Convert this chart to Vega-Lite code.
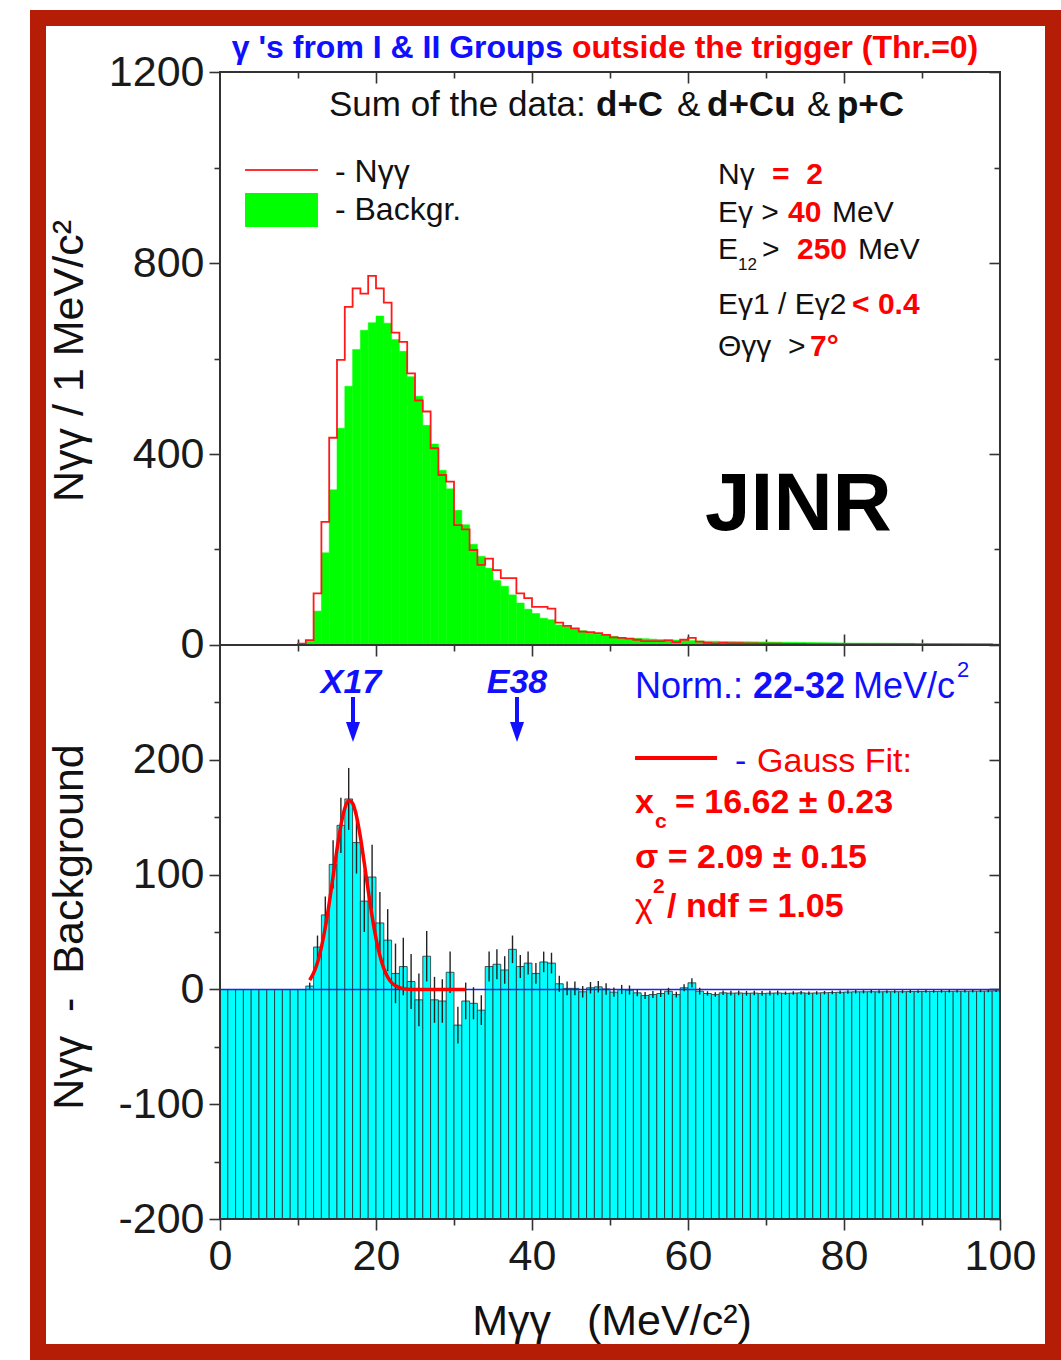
{
"$schema": "https://vega.github.io/schema/vega-lite/v6.json",
"width": 1015, "height": 1334,
"autosize": {"type": "none"},
"padding": {"left": 38, "top": 18, "right": 8, "bottom": 8},
"background": "white",
"config": {
  "view": {"stroke": "#b51d06", "strokeWidth": 16, "fill": "white"},
  "text": {"font": "Liberation Sans"},
  "axis": {"domain": false, "grid": false, "tickColor": "#333333", "tickWidth": 1.6, "labelFont": "Liberation Sans", "labelFontSize": 43, "labelColor": "#1a1a1a", "labelFlush": false, "labelOverlap": false, "labelBound": false}
},
"datasets": {
  "hist": [
    {"lo":0,"hi":1,"m":0.5,"n":0,"b":0,"d":0,"e":0},
    {"lo":1,"hi":2,"m":1.5,"n":0,"b":0,"d":0,"e":0},
    {"lo":2,"hi":3,"m":2.5,"n":0,"b":0,"d":0,"e":0},
    {"lo":3,"hi":4,"m":3.5,"n":0,"b":0,"d":0,"e":0},
    {"lo":4,"hi":5,"m":4.5,"n":0,"b":0,"d":0,"e":0},
    {"lo":5,"hi":6,"m":5.5,"n":0,"b":0,"d":0,"e":0},
    {"lo":6,"hi":7,"m":6.5,"n":0,"b":0,"d":0,"e":0},
    {"lo":7,"hi":8,"m":7.5,"n":0,"b":0,"d":0,"e":0},
    {"lo":8,"hi":9,"m":8.5,"n":0,"b":0,"d":0,"e":0},
    {"lo":9,"hi":10,"m":9.5,"n":0,"b":0,"d":0,"e":0},
    {"lo":10,"hi":11,"m":10.5,"n":3,"b":3,"d":0,"e":0},
    {"lo":11,"hi":12,"m":11.5,"n":10,"b":7,"d":3,"e":3},
    {"lo":12,"hi":13,"m":12.5,"n":108,"b":71,"d":37,"e":10},
    {"lo":13,"hi":14,"m":13.5,"n":258,"b":193,"d":65,"e":16},
    {"lo":14,"hi":15,"m":14.5,"n":434,"b":325,"d":109,"e":21},
    {"lo":15,"hi":16,"m":15.5,"n":597,"b":454,"d":143,"e":24},
    {"lo":16,"hi":17,"m":16.5,"n":708,"b":542,"d":166,"e":27},
    {"lo":17,"hi":18,"m":17.5,"n":747,"b":619,"d":128,"e":27},
    {"lo":18,"hi":19,"m":18.5,"n":736,"b":659,"d":77,"e":27},
    {"lo":19,"hi":20,"m":19.5,"n":773,"b":675,"d":98,"e":28},
    {"lo":20,"hi":21,"m":20.5,"n":747,"b":689,"d":58,"e":27},
    {"lo":21,"hi":22,"m":21.5,"n":717,"b":674,"d":43,"e":27},
    {"lo":22,"hi":23,"m":22.5,"n":654,"b":640,"d":14,"e":26},
    {"lo":23,"hi":24,"m":23.5,"n":635,"b":615,"d":20,"e":25},
    {"lo":24,"hi":25,"m":24.5,"n":569,"b":562,"d":7,"e":24},
    {"lo":25,"hi":26,"m":25.5,"n":512,"b":521,"d":-9,"e":23},
    {"lo":26,"hi":27,"m":26.5,"n":489,"b":460,"d":29,"e":22},
    {"lo":27,"hi":28,"m":27.5,"n":412,"b":421,"d":-9,"e":20},
    {"lo":28,"hi":29,"m":28.5,"n":356,"b":366,"d":-10,"e":19},
    {"lo":29,"hi":30,"m":29.5,"n":342,"b":327,"d":15,"e":18},
    {"lo":30,"hi":31,"m":30.5,"n":251,"b":282,"d":-31,"e":16},
    {"lo":31,"hi":32,"m":31.5,"n":242,"b":252,"d":-10,"e":16},
    {"lo":32,"hi":33,"m":32.5,"n":199,"b":211,"d":-12,"e":14},
    {"lo":33,"hi":34,"m":33.5,"n":168,"b":186,"d":-18,"e":13},
    {"lo":34,"hi":35,"m":34.5,"n":181,"b":161,"d":20,"e":13},
    {"lo":35,"hi":36,"m":35.5,"n":157,"b":135,"d":22,"e":13},
    {"lo":36,"hi":37,"m":36.5,"n":140,"b":123,"d":17,"e":12},
    {"lo":37,"hi":38,"m":37.5,"n":140,"b":105,"d":35,"e":12},
    {"lo":38,"hi":39,"m":38.5,"n":108,"b":88,"d":20,"e":10},
    {"lo":39,"hi":40,"m":39.5,"n":98,"b":75,"d":23,"e":10},
    {"lo":40,"hi":41,"m":40.5,"n":80,"b":66,"d":14,"e":9},
    {"lo":41,"hi":42,"m":41.5,"n":80,"b":56,"d":24,"e":9},
    {"lo":42,"hi":43,"m":42.5,"n":76,"b":53,"d":23,"e":9},
    {"lo":43,"hi":44,"m":43.5,"n":47,"b":42,"d":5,"e":7},
    {"lo":44,"hi":45,"m":44.5,"n":40,"b":39,"d":1,"e":6},
    {"lo":45,"hi":46,"m":45.5,"n":35,"b":34,"d":1,"e":6},
    {"lo":46,"hi":47,"m":46.5,"n":28,"b":30,"d":-2,"e":5},
    {"lo":47,"hi":48,"m":47.5,"n":27,"b":25.5,"d":1.5,"e":5},
    {"lo":48,"hi":49,"m":48.5,"n":25,"b":22.7,"d":2.3,"e":5},
    {"lo":49,"hi":50,"m":49.5,"n":21,"b":20.5,"d":0.5,"e":5},
    {"lo":50,"hi":51,"m":50.5,"n":16,"b":18.3,"d":-2.3,"e":4},
    {"lo":51,"hi":52,"m":51.5,"n":15,"b":15,"d":0,"e":4},
    {"lo":52,"hi":53,"m":52.5,"n":13.5,"b":14,"d":-0.5,"e":4},
    {"lo":53,"hi":54,"m":53.5,"n":11,"b":13.9,"d":-2.9,"e":3},
    {"lo":54,"hi":55,"m":54.5,"n":8,"b":13.2,"d":-5.2,"e":3},
    {"lo":55,"hi":56,"m":55.5,"n":8,"b":12.4,"d":-4.4,"e":3},
    {"lo":56,"hi":57,"m":56.5,"n":8,"b":11.5,"d":-3.5,"e":3},
    {"lo":57,"hi":58,"m":57.5,"n":9.5,"b":11,"d":-1.5,"e":3},
    {"lo":58,"hi":59,"m":58.5,"n":6,"b":10.4,"d":-4.4,"e":2.5},
    {"lo":59,"hi":60,"m":59.5,"n":11,"b":9.5,"d":1.5,"e":3},
    {"lo":60,"hi":61,"m":60.5,"n":15,"b":9.2,"d":5.8,"e":4},
    {"lo":61,"hi":62,"m":61.5,"n":7,"b":8.5,"d":-1.5,"e":3},
    {"lo":62,"hi":63,"m":62.5,"n":4.5,"b":8,"d":-3.5,"e":2},
    {"lo":63,"hi":64,"m":63.5,"n":3.5,"b":7.9,"d":-4.4,"e":2},
    {"lo":64,"hi":65,"m":64.5,"n":4.5,"b":7.4,"d":-2.9,"e":2},
    {"lo":65,"hi":66,"m":65.5,"n":4,"b":7.2,"d":-3.2,"e":2},
    {"lo":66,"hi":67,"m":66.5,"n":4,"b":7,"d":-3,"e":2},
    {"lo":67,"hi":68,"m":67.5,"n":3.5,"b":6.8,"d":-3.3,"e":2},
    {"lo":68,"hi":69,"m":68.5,"n":3.5,"b":6.6,"d":-3.1,"e":2},
    {"lo":69,"hi":70,"m":69.5,"n":3,"b":6.4,"d":-3.4,"e":2},
    {"lo":70,"hi":71,"m":70.5,"n":3,"b":6.2,"d":-3.2,"e":2},
    {"lo":71,"hi":72,"m":71.5,"n":3,"b":6,"d":-3,"e":2},
    {"lo":72,"hi":73,"m":72.5,"n":2.5,"b":5.8,"d":-3.3,"e":1.5},
    {"lo":73,"hi":74,"m":73.5,"n":2.5,"b":5.6,"d":-3.1,"e":1.5},
    {"lo":74,"hi":75,"m":74.5,"n":2.5,"b":5.4,"d":-2.9,"e":1.5},
    {"lo":75,"hi":76,"m":75.5,"n":2,"b":5.2,"d":-3.2,"e":1.5},
    {"lo":76,"hi":77,"m":76.5,"n":2,"b":5,"d":-3,"e":1.5},
    {"lo":77,"hi":78,"m":77.5,"n":2,"b":4.8,"d":-2.8,"e":1.5},
    {"lo":78,"hi":79,"m":78.5,"n":2,"b":4.6,"d":-2.6,"e":1.5},
    {"lo":79,"hi":80,"m":79.5,"n":2,"b":4.4,"d":-2.4,"e":1.5},
    {"lo":80,"hi":81,"m":80.5,"n":2,"b":4.2,"d":-2.2,"e":1.5},
    {"lo":81,"hi":82,"m":81.5,"n":2,"b":4,"d":-2,"e":1.5},
    {"lo":82,"hi":83,"m":82.5,"n":2,"b":4,"d":-2,"e":1.4},
    {"lo":83,"hi":84,"m":83.5,"n":2,"b":3.9,"d":-1.9,"e":1.4},
    {"lo":84,"hi":85,"m":84.5,"n":1.8,"b":3.8,"d":-2,"e":1.3},
    {"lo":85,"hi":86,"m":85.5,"n":1.8,"b":3.7,"d":-1.9,"e":1.3},
    {"lo":86,"hi":87,"m":86.5,"n":1.7,"b":3.6,"d":-1.9,"e":1.3},
    {"lo":87,"hi":88,"m":87.5,"n":1.6,"b":3.5,"d":-1.9,"e":1.3},
    {"lo":88,"hi":89,"m":88.5,"n":1.6,"b":3.4,"d":-1.8,"e":1.3},
    {"lo":89,"hi":90,"m":89.5,"n":1.5,"b":3.3,"d":-1.8,"e":1.2},
    {"lo":90,"hi":91,"m":90.5,"n":1.5,"b":3.2,"d":-1.7,"e":1.2},
    {"lo":91,"hi":92,"m":91.5,"n":1.4,"b":3.1,"d":-1.7,"e":1.2},
    {"lo":92,"hi":93,"m":92.5,"n":1.4,"b":3.0,"d":-1.6,"e":1.2},
    {"lo":93,"hi":94,"m":93.5,"n":1.3,"b":2.9,"d":-1.6,"e":1.1},
    {"lo":94,"hi":95,"m":94.5,"n":1.3,"b":2.8,"d":-1.5,"e":1.1},
    {"lo":95,"hi":96,"m":95.5,"n":1.2,"b":2.7,"d":-1.5,"e":1.1},
    {"lo":96,"hi":97,"m":96.5,"n":1.2,"b":2.6,"d":-1.4,"e":1.1},
    {"lo":97,"hi":98,"m":97.5,"n":1.1,"b":2.5,"d":-1.4,"e":1},
    {"lo":98,"hi":99,"m":98.5,"n":1.1,"b":2.4,"d":-1.3,"e":1},
    {"lo":99,"hi":100,"m":99.5,"n":1,"b":2.2,"d":-1.2,"e":1}
  ],
  "gauss": [
    {"gx":11.5,"g":8.2},{"gx":12,"g":14.3},{"gx":12.5,"g":23.6},{"gx":13,"g":36.8},{"gx":13.5,"g":54.2},
    {"gx":14,"g":75.2},{"gx":14.5,"g":98.6},{"gx":15,"g":122.2},{"gx":15.5,"g":142.9},{"gx":16,"g":157.9},
    {"gx":16.5,"g":164.7},{"gx":17,"g":162.3},{"gx":17.5,"g":151.0},{"gx":18,"g":132.7},{"gx":18.5,"g":110.1},
    {"gx":19,"g":86.3},{"gx":19.5,"g":63.9},{"gx":20,"g":44.6},{"gx":20.5,"g":29.5},{"gx":21,"g":18.4},
    {"gx":21.5,"g":10.8},{"gx":22,"g":6.0},{"gx":22.5,"g":3.2},{"gx":23,"g":1.6},{"gx":23.5,"g":0.7},
    {"gx":24,"g":0.3},{"gx":25,"g":0},{"gx":31.5,"g":0}
  ]
},
"layer": [
  {
    "data": {"name": "hist"},
    "mark": {"type": "bar", "fill": "#00ff00", "stroke": "#00ff00", "strokeWidth": 0.5},
    "encoding": {
      "x": {"field": "lo", "type": "quantitative", "scale": {"domain": [-23.3333, 106.7949], "nice": false, "zero": false},
            "axis": {"orient": "bottom", "offset": -1280, "values": [20,40,60,80], "tickSize": 11, "labels": false, "title": null}},
      "x2": {"field": "hi"},
      "y": {"field": "b", "type": "quantitative", "scale": {"domain": [-1480.63, 1313.09], "nice": false, "zero": false},
            "axis": {"orient": "left", "offset": -182, "values": [0,400,800,1200], "format": "d", "tickSize": 11, "labelPadding": 5, "title": null}},
      "y2": {"datum": 0}
    }
  },
  {
    "data": {"name": "hist"},
    "mark": {"type": "line", "interpolate": "step-after", "stroke": "#ff1a1a", "strokeWidth": 1.8},
    "encoding": {
      "x": {"field": "lo", "type": "quantitative", "scale": {"domain": [-23.3333, 106.7949], "nice": false, "zero": false},
            "axis": {"orient": "bottom", "offset": -1280, "values": [10,30,50,70,90], "tickSize": 6, "labels": false, "title": null}},
      "y": {"field": "n", "type": "quantitative", "scale": {"domain": [-1480.63, 1313.09], "nice": false, "zero": false},
            "axis": {"orient": "left", "offset": -182, "values": [200,600,1000], "tickSize": 6, "labels": false, "title": null}}
    }
  },
  {
    "data": {"values": [{}]},
    "mark": {"type": "rect", "fill": "white", "fillOpacity": 0, "stroke": "#333333", "strokeWidth": 2},
    "encoding": {
      "x": {"datum": 0, "type": "quantitative", "scale": {"domain": [-23.3333, 106.7949], "nice": false, "zero": false},
            "axis": {"orient": "top", "offset": -627, "values": [20,40,60,80], "tickSize": 11, "labels": false, "title": null}},
      "x2": {"datum": 100},
      "y": {"datum": 0, "type": "quantitative", "scale": {"domain": [-1480.63, 1313.09], "nice": false, "zero": false},
            "axis": {"orient": "left", "offset": -962, "values": [0,400,800,1200], "tickSize": 11, "labels": false, "title": null}},
      "y2": {"datum": 1200}
    }
  },
  {
    "data": {"values": [{}]},
    "mark": {"type": "rect", "fill": "#00ff00"},
    "encoding": {
      "x": {"datum": 3.21, "type": "quantitative", "scale": {"domain": [-23.3333, 106.7949], "nice": false, "zero": false},
            "axis": {"orient": "top", "offset": -627, "values": [10,30,50,70,90], "tickSize": 6, "labels": false, "title": null}},
      "x2": {"datum": 12.56},
      "y": {"datum": 946.6, "type": "quantitative", "scale": {"domain": [-1480.63, 1313.09], "nice": false, "zero": false},
            "axis": {"orient": "left", "offset": -962, "values": [200,600,1000], "tickSize": 6, "labels": false, "title": null}},
      "y2": {"datum": 875.4}
    }
  },
  {
    "data": {"name": "hist"},
    "mark": {"type": "bar", "fill": "#00ffff", "stroke": "#2b2b2b", "strokeWidth": 0.8},
    "encoding": {
      "x": {"field": "lo", "type": "quantitative", "scale": {"domain": [-23.3333, 106.7949], "nice": false, "zero": false},
            "axis": {"orient": "bottom", "offset": -133, "values": [0,20,40,60,80,100], "tickSize": 11, "labelPadding": 5, "title": null}},
      "x2": {"field": "hi"},
      "y": {"field": "d", "type": "quantitative", "scale": {"domain": [-315.77, 846.25], "nice": false, "zero": false},
            "axis": {"orient": "left", "offset": -182, "values": [-200,-100,0,100,200], "tickSize": 11, "labelPadding": 5, "title": null, "labelExpr": "replace(datum.label, '\u2212', '-')"}},
      "y2": {"datum": -200}
    }
  },
  {
    "data": {"values": [{}]},
    "mark": {"type": "rule", "stroke": "#2020ff", "strokeWidth": 1.3},
    "encoding": {
      "x": {"datum": 0, "type": "quantitative", "scale": {"domain": [-23.3333, 106.7949], "nice": false, "zero": false},
            "axis": {"orient": "bottom", "offset": -133, "values": [10,30,50,70,90], "tickSize": 6, "labels": false, "title": null}},
      "x2": {"datum": 100},
      "y": {"datum": 0, "type": "quantitative", "scale": {"domain": [-315.77, 846.25], "nice": false, "zero": false},
            "axis": {"orient": "left", "offset": -182, "values": [-150,-50,50,150,250], "tickSize": 6, "labels": false, "title": null}}
    }
  },
  {
    "data": {"name": "hist"},
    "mark": {"type": "errorbar", "color": "#222222", "thickness": 1.4},
    "encoding": {
      "x": {"field": "m", "type": "quantitative", "scale": {"domain": [-23.3333, 106.7949], "nice": false, "zero": false}, "axis": null},
      "y": {"field": "d", "type": "quantitative", "scale": {"domain": [-315.77, 846.25], "nice": false, "zero": false}, "axis": null},
      "yError": {"field": "e"}
    }
  },
  {
    "data": {"name": "gauss"},
    "mark": {"type": "line", "stroke": "#ff0000", "strokeWidth": 3.5, "interpolate": "monotone"},
    "encoding": {
      "x": {"field": "gx", "type": "quantitative", "scale": {"domain": [-23.3333, 106.7949], "nice": false, "zero": false},
            "axis": {"orient": "bottom", "offset": -707, "values": [20,40,60,80], "tickSize": 11, "labels": false, "title": null}},
      "y": {"field": "g", "type": "quantitative", "scale": {"domain": [-315.77, 846.25], "nice": false, "zero": false},
            "axis": {"orient": "left", "offset": -962, "values": [-200,-100,0,100,200], "tickSize": 11, "labels": false, "title": null}}
    }
  },
  {
    "data": {"values": [{}]},
    "mark": {"type": "rect", "fill": "white", "fillOpacity": 0, "stroke": "#333333", "strokeWidth": 2},
    "encoding": {
      "x": {"datum": 0, "type": "quantitative", "scale": {"domain": [-23.3333, 106.7949], "nice": false, "zero": false},
            "axis": {"orient": "bottom", "offset": -707, "values": [10,30,50,70,90], "tickSize": 6, "labels": false, "title": null}},
      "x2": {"datum": 100},
      "y": {"datum": -200, "type": "quantitative", "scale": {"domain": [-315.77, 846.25], "nice": false, "zero": false},
            "axis": {"orient": "left", "offset": -962, "values": [-150,-50,50,150,250], "tickSize": 6, "labels": false, "title": null}},
      "y2": {"datum": 300}
    }
  },
  {
    "data": {"values": [{}]},
    "mark": {"type": "rule", "stroke": "#ff3030", "strokeWidth": 2},
    "encoding": {
      "x": {"datum": 3.21, "type": "quantitative", "scale": {"domain": [-23.3333, 106.7949], "nice": false, "zero": false}, "axis": null},
      "x2": {"datum": 12.56},
      "y": {"datum": 994.8, "type": "quantitative", "scale": {"domain": [-1480.63, 1313.09], "nice": false, "zero": false}, "axis": null}
    }
  },
  {
    "data": {"values": [{"x": 43.97, "y": 1250.3, "t": "γ 's from I & II Groups"}]},
    "mark": {"type": "text", "font": "Liberation Sans", "fontSize": 32, "fontWeight": "bold", "fill": "#1010ff", "align": "right", "baseline": "middle"},
    "encoding": {
      "x": {"field": "x", "type": "quantitative", "scale": {"domain": [-23.3333, 106.7949], "nice": false, "zero": false}, "axis": null},
      "y": {"field": "y", "type": "quantitative", "scale": {"domain": [-1480.63, 1313.09], "nice": false, "zero": false}, "axis": null},
      "text": {"field": "t"}
    }
  },
  {
    "data": {"values": [{"x": 45.13, "y": 1250.3, "t": "outside the trigger (Thr.=0)"}]},
    "mark": {"type": "text", "font": "Liberation Sans", "fontSize": 32, "fontWeight": "bold", "fill": "#ff0000", "align": "left", "baseline": "middle"},
    "encoding": {
      "x": {"field": "x", "type": "quantitative", "scale": {"domain": [-23.3333, 106.7949], "nice": false, "zero": false}, "axis": null},
      "y": {"field": "y", "type": "quantitative", "scale": {"domain": [-1480.63, 1313.09], "nice": false, "zero": false}, "axis": null},
      "text": {"field": "t"}
    }
  },
  {
    "data": {"values": [{"x": 13.97, "y": 1130.9, "t": "Sum of the data:"}, {"x": 58.59, "y": 1130.9, "t": "&"}, {"x": 75.26, "y": 1130.9, "t": "&"}]},
    "mark": {"type": "text", "font": "Liberation Sans", "fontSize": 35, "fill": "#111111", "align": "left", "baseline": "middle"},
    "encoding": {
      "x": {"field": "x", "type": "quantitative", "scale": {"domain": [-23.3333, 106.7949], "nice": false, "zero": false}, "axis": null},
      "y": {"field": "y", "type": "quantitative", "scale": {"domain": [-1480.63, 1313.09], "nice": false, "zero": false}, "axis": null},
      "text": {"field": "t"}
    }
  },
  {
    "data": {"values": [{"x": 48.21, "y": 1130.9, "t": "d+C"}, {"x": 62.44, "y": 1130.9, "t": "d+Cu"}, {"x": 79.1, "y": 1130.9, "t": "p+C"}]},
    "mark": {"type": "text", "font": "Liberation Sans", "fontSize": 35, "fontWeight": "bold", "fill": "#111111", "align": "left", "baseline": "middle"},
    "encoding": {
      "x": {"field": "x", "type": "quantitative", "scale": {"domain": [-23.3333, 106.7949], "nice": false, "zero": false}, "axis": null},
      "y": {"field": "y", "type": "quantitative", "scale": {"domain": [-1480.63, 1313.09], "nice": false, "zero": false}, "axis": null},
      "text": {"field": "t"}
    }
  },
  {
    "data": {"values": [{"x": 14.74, "y": 990.6, "t": "- Nγγ"}, {"x": 14.74, "y": 911.0, "t": "- Backgr."}]},
    "mark": {"type": "text", "font": "Liberation Sans", "fontSize": 32, "fill": "#111111", "align": "left", "baseline": "middle"},
    "encoding": {
      "x": {"field": "x", "type": "quantitative", "scale": {"domain": [-23.3333, 106.7949], "nice": false, "zero": false}, "axis": null},
      "y": {"field": "y", "type": "quantitative", "scale": {"domain": [-1480.63, 1313.09], "nice": false, "zero": false}, "axis": null},
      "text": {"field": "t"}
    }
  },
  {
    "data": {"values": [
      {"x": 63.85, "y": 984.3, "t": "Nγ"},
      {"x": 63.85, "y": 904.7, "t": "Eγ >"},
      {"x": 78.46, "y": 904.7, "t": "MeV"},
      {"x": 63.85, "y": 827.2, "t": "E"},
      {"x": 69.49, "y": 827.2, "t": ">"},
      {"x": 81.79, "y": 827.2, "t": "MeV"},
      {"x": 63.85, "y": 712.0, "t": "Eγ1 / Eγ2"},
      {"x": 63.85, "y": 624.1, "t": "Θγγ\u00a0\u00a0>"}
    ]},
    "mark": {"type": "text", "font": "Liberation Sans", "fontSize": 30, "fill": "#111111", "align": "left", "baseline": "middle"},
    "encoding": {
      "x": {"field": "x", "type": "quantitative", "scale": {"domain": [-23.3333, 106.7949], "nice": false, "zero": false}, "axis": null},
      "y": {"field": "y", "type": "quantitative", "scale": {"domain": [-1480.63, 1313.09], "nice": false, "zero": false}, "axis": null},
      "text": {"field": "t"}
    }
  },
  {
    "data": {"values": [{"x": 66.41, "y": 795.8, "t": "12"}]},
    "mark": {"type": "text", "font": "Liberation Sans", "fontSize": 17, "fill": "#111111", "align": "left", "baseline": "middle"},
    "encoding": {
      "x": {"field": "x", "type": "quantitative", "scale": {"domain": [-23.3333, 106.7949], "nice": false, "zero": false}, "axis": null},
      "y": {"field": "y", "type": "quantitative", "scale": {"domain": [-1480.63, 1313.09], "nice": false, "zero": false}, "axis": null},
      "text": {"field": "t"}
    }
  },
  {
    "data": {"values": [
      {"x": 70.77, "y": 984.3, "t": "=\u00a0\u00a02"},
      {"x": 72.82, "y": 904.7, "t": "40"},
      {"x": 73.97, "y": 827.2, "t": "250"},
      {"x": 81.03, "y": 712.0, "t": "< 0.4"},
      {"x": 75.64, "y": 624.1, "t": "7°"}
    ]},
    "mark": {"type": "text", "font": "Liberation Sans", "fontSize": 30, "fontWeight": "bold", "fill": "#ff0000", "align": "left", "baseline": "middle"},
    "encoding": {
      "x": {"field": "x", "type": "quantitative", "scale": {"domain": [-23.3333, 106.7949], "nice": false, "zero": false}, "axis": null},
      "y": {"field": "y", "type": "quantitative", "scale": {"domain": [-1480.63, 1313.09], "nice": false, "zero": false}, "axis": null},
      "text": {"field": "t"}
    }
  },
  {
    "data": {"values": [{"x": 62.18, "y": 293.2, "t": "JINR"}]},
    "mark": {"type": "text", "font": "Liberation Sans", "fontSize": 82, "fontWeight": "bold", "fill": "#000000", "align": "left", "baseline": "middle"},
    "encoding": {
      "x": {"field": "x", "type": "quantitative", "scale": {"domain": [-23.3333, 106.7949], "nice": false, "zero": false}, "axis": null},
      "y": {"field": "y", "type": "quantitative", "scale": {"domain": [-1480.63, 1313.09], "nice": false, "zero": false}, "axis": null},
      "text": {"field": "t"}
    }
  },
  {
    "data": {"values": [{"x": -19.23, "y": 594.8, "t": "Nγγ / 1 MeV/c²"}]},
    "mark": {"type": "text", "font": "Liberation Sans", "fontSize": 43, "fill": "#111111", "align": "center", "baseline": "middle", "angle": 270},
    "encoding": {
      "x": {"field": "x", "type": "quantitative", "scale": {"domain": [-23.3333, 106.7949], "nice": false, "zero": false}, "axis": null},
      "y": {"field": "y", "type": "quantitative", "scale": {"domain": [-1480.63, 1313.09], "nice": false, "zero": false}, "axis": null},
      "text": {"field": "t"}
    }
  },
  {
    "data": {"values": [{"x": -19.23, "y": 54.4, "t": "Nγγ\u00a0\u00a0-\u00a0\u00a0Background"}]},
    "mark": {"type": "text", "font": "Liberation Sans", "fontSize": 43, "fill": "#111111", "align": "center", "baseline": "middle", "angle": 270},
    "encoding": {
      "x": {"field": "x", "type": "quantitative", "scale": {"domain": [-23.3333, 106.7949], "nice": false, "zero": false}, "axis": null},
      "y": {"field": "y", "type": "quantitative", "scale": {"domain": [-315.77, 846.25], "nice": false, "zero": false}, "axis": null},
      "text": {"field": "t"}
    }
  },
  {
    "data": {"values": [{"x": 50.26, "y": -289.6, "t": "Mγγ\u00a0\u00a0\u00a0(MeV/c²)"}]},
    "mark": {"type": "text", "font": "Liberation Sans", "fontSize": 43, "fill": "#111111", "align": "center", "baseline": "middle"},
    "encoding": {
      "x": {"field": "x", "type": "quantitative", "scale": {"domain": [-23.3333, 106.7949], "nice": false, "zero": false}, "axis": null},
      "y": {"field": "y", "type": "quantitative", "scale": {"domain": [-315.77, 846.25], "nice": false, "zero": false}, "axis": null},
      "text": {"field": "t"}
    }
  },
  {
    "data": {"values": [{"x": 16.79, "y": 267.0, "t": "X17"}, {"x": 38.08, "y": 267.0, "t": "E38"}]},
    "mark": {"type": "text", "font": "Liberation Sans", "fontSize": 34, "fontWeight": "bold", "fontStyle": "italic", "fill": "#1010ff", "align": "center", "baseline": "middle"},
    "encoding": {
      "x": {"field": "x", "type": "quantitative", "scale": {"domain": [-23.3333, 106.7949], "nice": false, "zero": false}, "axis": null},
      "y": {"field": "y", "type": "quantitative", "scale": {"domain": [-315.77, 846.25], "nice": false, "zero": false}, "axis": null},
      "text": {"field": "t"}
    }
  },
  {
    "data": {"values": [{"x": 17.05, "ya": 254.8, "yb": 231.3}, {"x": 38.08, "ya": 254.8, "yb": 231.3}]},
    "mark": {"type": "rule", "stroke": "#1010ff", "strokeWidth": 4},
    "encoding": {
      "x": {"field": "x", "type": "quantitative", "scale": {"domain": [-23.3333, 106.7949], "nice": false, "zero": false}, "axis": null},
      "y": {"field": "ya", "type": "quantitative", "scale": {"domain": [-315.77, 846.25], "nice": false, "zero": false}, "axis": null},
      "y2": {"field": "yb"}
    }
  },
  {
    "data": {"values": [{"x": 17.05, "y": 224.3}, {"x": 38.08, "y": 224.3}]},
    "mark": {"type": "point", "shape": "M-0.7,-1L0.7,-1L0,1Z", "size": 400, "filled": true, "fill": "#1010ff", "stroke": null, "opacity": 1},
    "encoding": {
      "x": {"field": "x", "type": "quantitative", "scale": {"domain": [-23.3333, 106.7949], "nice": false, "zero": false}, "axis": null},
      "y": {"field": "y", "type": "quantitative", "scale": {"domain": [-315.77, 846.25], "nice": false, "zero": false}, "axis": null}
    }
  },
  {
    "data": {"values": [{"x": 53.21, "y": 263.5, "t": "Norm.:"}, {"x": 81.15, "y": 263.5, "t": "MeV/c"}]},
    "mark": {"type": "text", "font": "Liberation Sans", "fontSize": 36, "fill": "#1010ff", "align": "left", "baseline": "middle"},
    "encoding": {
      "x": {"field": "x", "type": "quantitative", "scale": {"domain": [-23.3333, 106.7949], "nice": false, "zero": false}, "axis": null},
      "y": {"field": "y", "type": "quantitative", "scale": {"domain": [-315.77, 846.25], "nice": false, "zero": false}, "axis": null},
      "text": {"field": "t"}
    }
  },
  {
    "data": {"values": [{"x": 68.33, "y": 263.5, "t": "22-32"}]},
    "mark": {"type": "text", "font": "Liberation Sans", "fontSize": 36, "fontWeight": "bold", "fill": "#1010ff", "align": "left", "baseline": "middle"},
    "encoding": {
      "x": {"field": "x", "type": "quantitative", "scale": {"domain": [-23.3333, 106.7949], "nice": false, "zero": false}, "axis": null},
      "y": {"field": "y", "type": "quantitative", "scale": {"domain": [-315.77, 846.25], "nice": false, "zero": false}, "axis": null},
      "text": {"field": "t"}
    }
  },
  {
    "data": {"values": [{"x": 94.49, "y": 278.3, "t": "2"}]},
    "mark": {"type": "text", "font": "Liberation Sans", "fontSize": 22, "fill": "#1010ff", "align": "left", "baseline": "middle"},
    "encoding": {
      "x": {"field": "x", "type": "quantitative", "scale": {"domain": [-23.3333, 106.7949], "nice": false, "zero": false}, "axis": null},
      "y": {"field": "y", "type": "quantitative", "scale": {"domain": [-315.77, 846.25], "nice": false, "zero": false}, "axis": null},
      "text": {"field": "t"}
    }
  },
  {
    "data": {"values": [{}]},
    "mark": {"type": "rule", "stroke": "#ff0000", "strokeWidth": 4},
    "encoding": {
      "x": {"datum": 53.21, "type": "quantitative", "scale": {"domain": [-23.3333, 106.7949], "nice": false, "zero": false}, "axis": null},
      "x2": {"datum": 63.72},
      "y": {"datum": 201.7, "type": "quantitative", "scale": {"domain": [-315.77, 846.25], "nice": false, "zero": false}, "axis": null}
    }
  },
  {
    "data": {"values": [{"x": 66.03, "y": 198.2, "t": "-"}]},
    "mark": {"type": "text", "font": "Liberation Sans", "fontSize": 34, "fill": "#1010ff", "align": "left", "baseline": "middle"},
    "encoding": {
      "x": {"field": "x", "type": "quantitative", "scale": {"domain": [-23.3333, 106.7949], "nice": false, "zero": false}, "axis": null},
      "y": {"field": "y", "type": "quantitative", "scale": {"domain": [-315.77, 846.25], "nice": false, "zero": false}, "axis": null},
      "text": {"field": "t"}
    }
  },
  {
    "data": {"values": [{"x": 68.85, "y": 198.2, "t": "Gauss Fit:"}, {"x": 53.21, "y": 71.9, "t": "χ"}]},
    "mark": {"type": "text", "font": "Liberation Sans", "fontSize": 34, "fill": "#ff0000", "align": "left", "baseline": "middle"},
    "encoding": {
      "x": {"field": "x", "type": "quantitative", "scale": {"domain": [-23.3333, 106.7949], "nice": false, "zero": false}, "axis": null},
      "y": {"field": "y", "type": "quantitative", "scale": {"domain": [-315.77, 846.25], "nice": false, "zero": false}, "axis": null},
      "text": {"field": "t"}
    }
  },
  {
    "data": {"values": [
      {"x": 53.21, "y": 162.5, "t": "x"},
      {"x": 58.33, "y": 162.5, "t": "= 16.62 ± 0.23"},
      {"x": 53.21, "y": 114.5, "t": "σ = 2.09 ± 0.15"},
      {"x": 57.31, "y": 71.9, "t": "/ ndf = 1.05"}
    ]},
    "mark": {"type": "text", "font": "Liberation Sans", "fontSize": 34, "fontWeight": "bold", "fill": "#ff0000", "align": "left", "baseline": "middle"},
    "encoding": {
      "x": {"field": "x", "type": "quantitative", "scale": {"domain": [-23.3333, 106.7949], "nice": false, "zero": false}, "axis": null},
      "y": {"field": "y", "type": "quantitative", "scale": {"domain": [-315.77, 846.25], "nice": false, "zero": false}, "axis": null},
      "text": {"field": "t"}
    }
  },
  {
    "data": {"values": [{"x": 55.77, "y": 145.9, "t": "c"}, {"x": 55.51, "y": 89.3, "t": "2"}]},
    "mark": {"type": "text", "font": "Liberation Sans", "fontSize": 21, "fontWeight": "bold", "fill": "#ff0000", "align": "left", "baseline": "middle"},
    "encoding": {
      "x": {"field": "x", "type": "quantitative", "scale": {"domain": [-23.3333, 106.7949], "nice": false, "zero": false}, "axis": null},
      "y": {"field": "y", "type": "quantitative", "scale": {"domain": [-315.77, 846.25], "nice": false, "zero": false}, "axis": null},
      "text": {"field": "t"}
    }
  }
],
"resolve": {"scale": {"y": "independent"}, "axis": {"x": "independent", "y": "independent"}}
}
